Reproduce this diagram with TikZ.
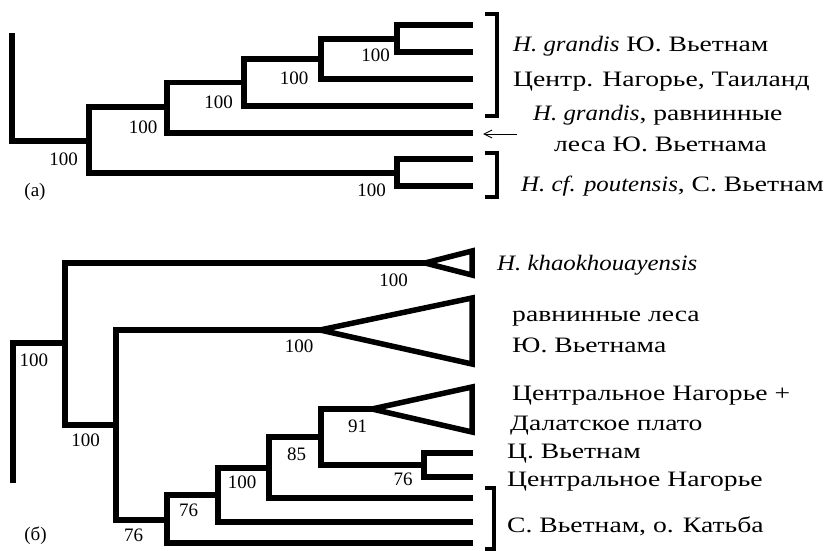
\documentclass[tikz,border=0pt]{standalone}
\usepackage{fontspec}
\setmainfont{Liberation Serif}
% wide setting of the taxon labels
\newfontfamily\taxfont[FakeStretch=1.255]{Liberation Serif}
\newfontfamily\taxital[FakeStretch=1.13]{Liberation Serif}
\newcommand\latname[1]{{\taxital\itshape #1}}
\usetikzlibrary{arrows.meta}
\begin{document}
\begin{tikzpicture}[x=1pt,y=-1pt,
  branch/.style={line width=5.5pt, line join=miter, line cap=butt},
  bracket/.style={line width=4.5pt, line join=miter, line cap=butt},
  support/.style={inner sep=0pt, font=\fontsize{19}{19}\selectfont},
  taxon/.style={inner sep=0pt, anchor=base west, font=\taxfont\fontsize{22}{24}\selectfont}]
\useasboundingbox (0,0) rectangle (830,551);

% ---------------- tree (a) ----------------
\coordinate (aroot) at (12,33);
\coordinate (A) at (89,141);
\coordinate (B) at (167,107);
\coordinate (C) at (244,82.5);
\coordinate (D) at (321,59);
\coordinate (E) at (397,39);
\coordinate (F) at (397,173);
\coordinate (e1) at (473,25);
\coordinate (e2) at (473,52);
\coordinate (d3) at (473,79);
\coordinate (c4) at (473,106);
\coordinate (b5) at (473,133);
\coordinate (f1) at (473,159);
\coordinate (f2) at (473,186);

\draw[branch] (aroot) |- (A);
\draw[branch] (B) -| (A) |- (F);
\draw[branch] (C) -| (B) |- (b5);
\draw[branch] (D) -| (C) |- (c4);
\draw[branch] (E) -| (D) |- (d3);
\draw[branch] (e1) -| (E) |- (e2);
\draw[branch] (f1) -| (F) |- (f2);

\node[support] (sA) at (63.5,159.5) {100};
\node[support] (sB) at (143,127.5) {100};
\node[support] (sC) at (218.5,102) {100};
\node[support] (sD) at (294,78) {100};
\node[support] (sE) at (375.5,55) {100};
\node[support] (sF) at (371.5,190) {100};
\node[support] (pa) at (35,192) {(a)};

% brackets and arrow of (a)
\coordinate (k1a) at (485,14);
\coordinate (k1b) at (485,116);
\coordinate (k2a) at (485,153);
\coordinate (k2b) at (485,197);
\draw[bracket] (k1a) -- ++(12,0) |- (k1b);
\draw[bracket] (k2a) -- ++(12,0) |- (k2b);
\coordinate (arrs) at (517,134);
\coordinate (arre) at (483,134);
\draw[line width=1pt, -{Straight Barb[length=8pt,width=8pt]}] (arrs) -- (arre);

\node[taxon] (ta1) at (513,52) {\latname{H. grandis} Ю. Вьетнам};
\node[taxon] (ta2) at (513,86) {Центр. Нагорье, Таиланд};
\node[taxon] (ta3) at (533,120) {\latname{H. grandis}, равнинные};
\node[taxon] (ta4) at (554,151) {леса Ю. Вьетнама};
\node[taxon] (ta5) at (521,191) {\latname{H. cf. poutensis}, С. Вьетнам};

% ---------------- tree (б) ----------------
\coordinate (broot) at (13,483);
\coordinate (P1) at (65,343);
\coordinate (P2) at (116,425);
\coordinate (P3) at (167,520);
\coordinate (P4) at (218,495);
\coordinate (P5) at (269,468);
\coordinate (P6) at (321,437);
\coordinate (P7) at (424,465);
\coordinate (T1) at (425,263);
\coordinate (T2) at (320,330);
\coordinate (T3) at (372,409);
\coordinate (p3t) at (473,543);
\coordinate (p4t) at (473,522);
\coordinate (p5t) at (473,498);
\coordinate (p7a) at (473,453);
\coordinate (p7b) at (473,477);

\draw[branch] (broot) |- (P1);
\draw[branch] (T1) -| (P1) |- (P2);
\draw[branch] (T2) -| (P2) |- (P3);
\draw[branch] (P4) -| (P3) |- (p3t);
\draw[branch] (P5) -| (P4) |- (p4t);
\draw[branch] (P6) -| (P5) |- (p5t);
\draw[branch] (T3) -| (P6) |- (P7);
\draw[branch] (p7a) -| (P7) |- (p7b);

% collapsed clades
\draw[branch] (T1) -- (472,251) -- (472,275) -- cycle;
\draw[branch] (T2) -- (472,298) -- (472,364) -- cycle;
\draw[branch] (T3) -- (472,387) -- (472,432) -- cycle;

\node[support] (s1) at (34,360) {100};
\node[support] (s2) at (85.5,440.5) {100};
\node[support] (s3) at (393.5,280) {100};
\node[support] (s4) at (299,346) {100};
\node[support] (s5) at (357.5,426) {91};
\node[support] (s6) at (296.5,454) {85};
\node[support] (s7) at (242,482) {100};
\node[support] (s8) at (403,479.5) {76};
\node[support] (s9) at (188.5,510.5) {76};
\node[support] (s10) at (133.5,535.5) {76};
\node[support] (pb) at (35.5,535.5) {(б)};

\coordinate (k3a) at (485,488);
\coordinate (k3b) at (485,549);
\draw[bracket] (k3a) -- ++(9,0) |- (k3b);

\node[taxon] (tb1) at (497,270) {\latname{H. khaokhouayensis}};
\node[taxon] (tb2) at (512,321) {равнинные леса};
\node[taxon] (tb3) at (512,352) {Ю. Вьетнама};
\node[taxon] (tb4) at (512,400) {Центральное Нагорье +};
\node[taxon] (tb5) at (510,430) {Далатское плато};
\node[taxon] (tb6) at (507,458) {Ц. Вьетнам};
\node[taxon] (tb7) at (507,486) {Центральное Нагорье};
\node[taxon] (tb8) at (507,532) {С. Вьетнам, о. Катьба};
\end{tikzpicture}
\end{document}
